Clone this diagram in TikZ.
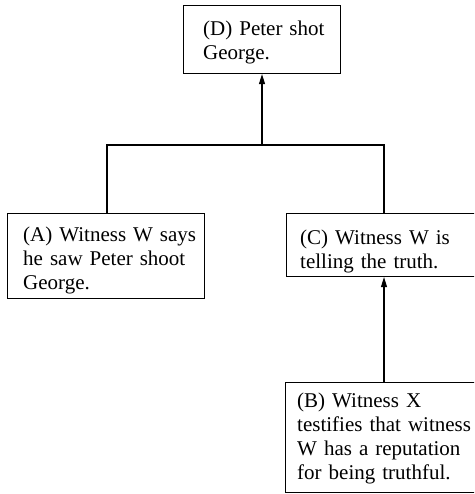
\documentclass[tikz,border=0pt]{standalone}
\usepackage{fontspec}
\setmainfont{Liberation Serif}
\usetikzlibrary{arrows.meta,calc}
\begin{document}
\begin{tikzpicture}[x=1pt,y=-1pt,
  box/.style={draw,line width=1.1pt,rectangle,inner sep=0pt,anchor=north west},
  txt/.style={inner sep=0pt,anchor=north west,align=left,text width=200pt,
    font=\fontsize{21}{24}\selectfont},
  link/.style={line width=1.1pt},
  arr/.style={line width=1.1pt,-{Triangle[length=10pt,width=6pt]}}]
\useasboundingbox[clip] (0,0) rectangle (474,494);
% boxes
\node[box,minimum width=157pt,minimum height=68pt] (D) at (183,5) {};
\node[box,minimum width=197pt,minimum height=85pt] (A) at (7,213) {};
\node[box,minimum width=220pt,minimum height=63pt] (C) at (286,213) {};
\node[box,minimum width=220pt,minimum height=110pt] (B) at (285,382) {};
% texts (first baseline 16.8pt below the node top)
\node[txt] (Dt) at (203,18.2) {\strut(D) Peter shot\\George.};
\node[txt] (At) at (23,224) {\strut(A) Witness W says\\he saw Peter shoot\\George.};
\node[txt] (Ct) at (300,227) {\strut(C) Witness W is\\telling the truth.};
\node[txt] (Bt) at (297,390) {\strut(B) Witness X\\testifies that witness\\W has a reputation\\for being truthful.};
% connectors
\coordinate (J) at (262,145);
\draw[link] (A.north -| 107,0) |- (J) -| (C.north -| 384,0);
\draw[arr] (J) -- (D.south -| J);
\draw[arr] (B.north -| 384,0) -- (C.south -| 384,0);
\end{tikzpicture}
\end{document}
